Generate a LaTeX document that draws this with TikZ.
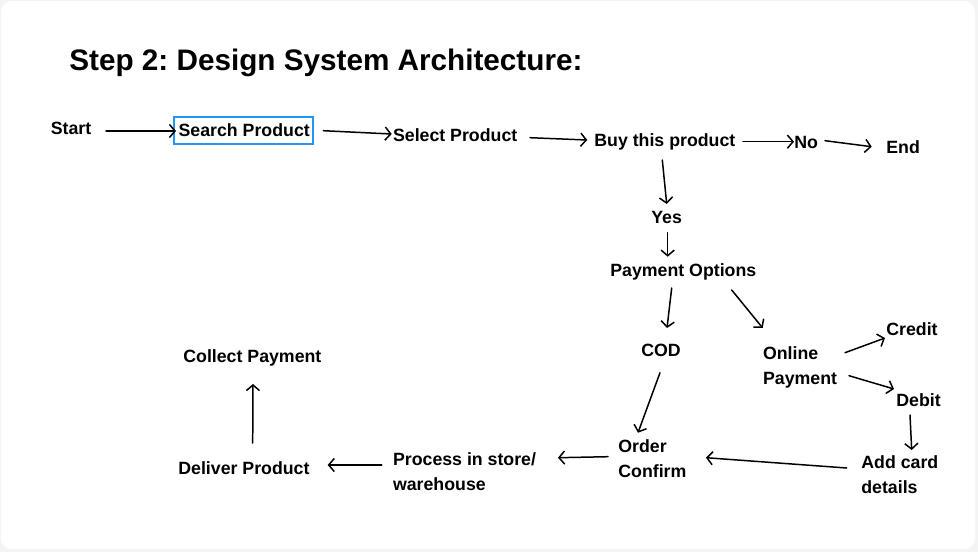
\documentclass[tikz,border=0pt]{standalone}
\usepackage{fontspec}
\setmainfont{Liberation Sans}
\frenchspacing
\usepackage{tikz}
\usetikzlibrary{positioning,arrows.meta,calc}
\definecolor{pick}{HTML}{2196F3}
\definecolor{page}{HTML}{F4F4F4}

\begin{document}
\begin{tikzpicture}[x=0.02cm, y=-0.02cm,
  lbl/.style={font=\bfseries\fontsize{10.1}{14}\selectfont, inner sep=0pt, anchor=base west, align=left},
  arr/.style={-{Straight Barb[length=3.2pt, width=7.5pt]}, line width=0.85pt, line cap=round}]
% card
\fill[page] (0,0) rectangle (978,552);
\fill[white, rounded corners=6] (1,1) rectangle (975,549);
\useasboundingbox (0,0) rectangle (978,552);
\node[font=\bfseries\fontsize{16.9}{20}\selectfont, inner sep=0pt, anchor=base west] (title) at (69,70.5) {Step 2: Design System Architecture:};
% top row
\node[lbl] (start) at (50.5,134.3) {Start};
\node[lbl] (search) at (178.3,136.7) {Search Product};
\draw[pick, line width=1.2pt] ($(search.base west)+(-4,-20)$) rectangle ($(search.base west)+(135,7.6)$);
\node[lbl] (select) at (392.7,141) {Select Product};
\node[lbl] (buy) at (594,146) {Buy this product};
\node[lbl] (no) at (794,148) {No};
\node[lbl] (end) at (886,153) {End};
% yes branch (two-line labels sit on their last line)
\node[lbl] (yes) at (651,223) {Yes};
\node[lbl] (payopt) at (610,276) {Payment Options};
\node[lbl] (cod) at (641,356) {COD};
\node[lbl] (online) at (762.7,384) {Online\\Payment};
\node[lbl] (credit) at (886,335) {Credit};
\node[lbl] (debit) at (896,406) {Debit};
\node[lbl] (card) at (861,493) {Add card\\details};
\node[lbl] (order) at (618,477) {Order\\Confirm};
\node[lbl] (process) at (392.7,490) {Process in store/\\warehouse};
\node[lbl] (deliver) at (178,474) {Deliver Product};
\node[lbl] (collect) at (183,362.7) {Collect Payment};
% connectors
\draw[arr] ($(start.base west)+(55.5,-3.3)$) -- ($(search.base west)+(-2.3,-5.7)$);
\draw[arr] ($(search.base west)+(145,-6)$) -- ($(select.base west)+(-1,-7)$);
\draw[arr] ($(select.base west)+(137.3,-3.3)$) -- ($(buy.base west)+(-6.7,-6)$);
\draw[arr] ($(buy.base west)+(149,-4.3)$) -- ($(no.base west)+(0,-6.3)$);
\draw[arr] ($(no.base west)+(31,-7.3)$) -- ($(end.base west)+(-14.3,-6.3)$);
\draw[arr] ($(buy.base west)+(68.3,14)$) -- ($(yes.base west)+(15.7,-19)$);
\draw[arr] ($(yes.base west)+(16.7,9.7)$) -- ($(payopt.base west)+(57.7,-19.3)$);
\draw[arr] ($(payopt.base west)+(61.7,12)$) -- ($(cod.base west)+(26,-28)$);
\draw[arr] ($(payopt.base west)+(121.7,14)$) -- ($(online.base west)+(0,-56)$);
\draw[arr] ($(online.base west)+(82.3,-31.3)$) -- ($(credit.base west)+(-1,3)$);
\draw[arr] ($(online.base west)+(86.3,-8.3)$) -- ($(debit.base west)+(-2,-17)$);
\draw[arr] ($(debit.base west)+(14,9)$) -- ($(card.base west)+(50.7,-43)$);
\draw[arr] ($(card.base west)+(-14.3,-25)$) -- ($(order.base west)+(88,-19.3)$);
\draw[arr] ($(cod.base west)+(19,16.7)$) -- ($(order.base west)+(20,-44.3)$);
\draw[arr] ($(order.base west)+(-10,-20.3)$) -- ($(process.base west)+(165.3,-32.3)$);
\draw[arr] ($(process.base west)+(-11,-25)$) -- ($(deliver.base west)+(149.7,-9)$);
\draw[arr] ($(deliver.base west)+(74.7,-31)$) -- ($(collect.base west)+(70,21.3)$);
\end{tikzpicture}
\end{document}
